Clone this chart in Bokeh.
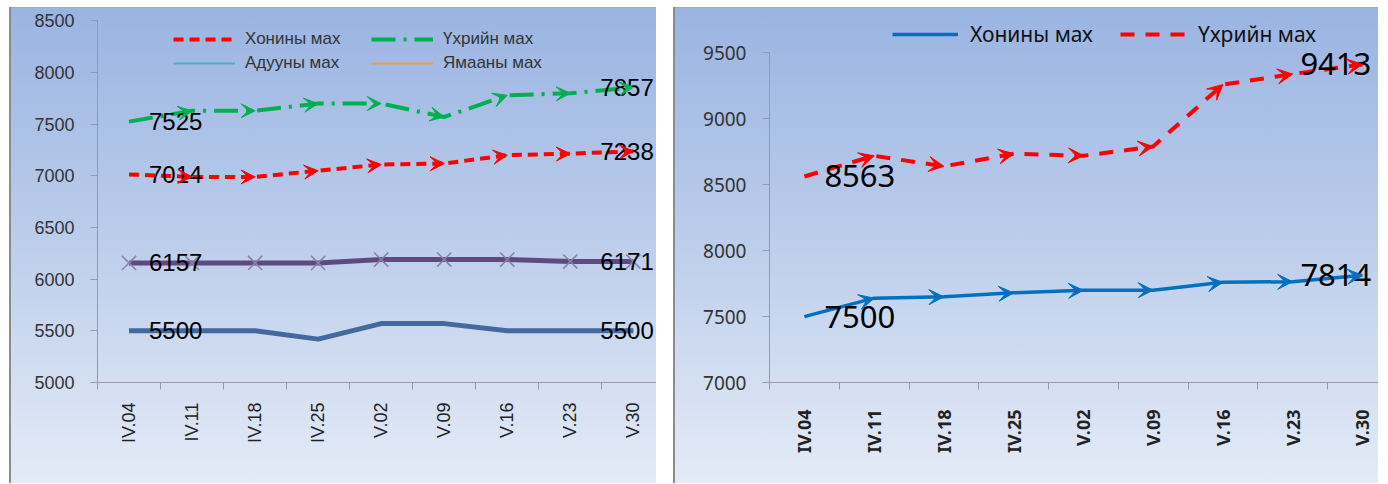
import numpy as np
from bokeh.plotting import figure
from bokeh.models import (Range1d, FixedTicker, ColumnDataSource, Legend, LegendItem,
                          Arrow, VeeHead, Row)
from bokeh.core.properties import value
from bokeh.embed import file_html
from bokeh.resources import INLINE

# ---------------- data ----------------
dates = ["IV.04", "IV.11", "IV.18", "IV.25", "V.02", "V.09", "V.16", "V.23", "V.30"]

# left chart
left_names = ["Хонины мах", "Үхрийн мах", "Адууны мах", "Ямааны мах"]
l_mutton = [7014, 6990, 6990, 7050, 7110, 7120, 7200, 7215, 7238]
l_beef = [7525, 7630, 7630, 7700, 7700, 7570, 7780, 7800, 7857]
l_horse = [6157, 6157, 6157, 6157, 6190, 6190, 6190, 6171, 6171]
l_goat = [5500, 5500, 5500, 5420, 5570, 5570, 5500, 5500, 5500]
left_yticks = [5000, 5500, 6000, 6500, 7000, 7500, 8000, 8500]

# right chart
right_names = ["Хонины мах", "Үхрийн мах"]
r_mutton = [7500, 7640, 7650, 7680, 7700, 7700, 7760, 7765, 7814]
r_beef = [8563, 8720, 8640, 8735, 8720, 8790, 9260, 9340, 9413]
right_yticks = [7000, 7500, 8000, 8500, 9000, 9500]

xs = list(range(len(dates)))
GRAD = "linear-gradient(to bottom, #9ab4e2 0%, #b9cbea 45%, #e4ebf7 100%)"


def make_fig(w, h, yr, ybounds, xend, bl, bb, yticks, yfont, yfs, xfont, xfs, xbold,
             standoff_x, standoff_y):
    p = figure(width=w, height=h, x_range=Range1d(-0.5, xend), y_range=Range1d(*yr),
               output_backend="svg", toolbar_location=None, title_location=None,
               min_border_left=bl, min_border_top=0, min_border_bottom=bb, min_border_right=0)
    p.background_fill_alpha = 0
    p.border_fill_alpha = 0
    p.outline_line_color = None
    p.grid.visible = False
    p.styles = {"background": GRAD,
                "box-shadow": "inset 2px 0 0 #8c8c8c, inset 0 1px 0 #a8a8a8"}
    ax = p.xaxis[0]
    ax.ticker = FixedTicker(ticks=xs, minor_ticks=[i - 0.5 for i in range(len(dates) + 1)])
    ax.major_label_overrides = {i: d for i, d in enumerate(dates)}
    ax.major_tick_out = 0
    ax.major_tick_in = 0
    ax.minor_tick_out = 7
    ax.minor_tick_in = 0
    ax.minor_tick_line_color = "#9a9a9a"
    ax.axis_line_color = "#9a9a9a"
    ax.major_label_orientation = np.pi / 2
    ax.major_label_text_font = xfont
    ax.major_label_text_font_size = f"{xfs}px"
    ax.major_label_text_color = "#222222"
    ax.major_label_text_font_style = "bold" if xbold else "normal"
    ax.major_label_standoff = standoff_x
    ay = p.yaxis[0]
    ay.ticker = FixedTicker(ticks=yticks, minor_ticks=[])
    ay.bounds = ybounds
    ay.major_tick_out = 7
    ay.major_tick_in = 0
    ay.major_tick_line_color = "#9a9a9a"
    ay.axis_line_color = "#9a9a9a"
    ay.major_label_text_font = yfont
    ay.major_label_text_font_size = f"{yfs}px"
    ay.major_label_text_color = "#333333"
    ay.major_label_standoff = standoff_y
    return p


def add_arrows(p, ys, color, size):
    src = ColumnDataSource(dict(x0=xs[:-1], y0=ys[:-1], x1=xs[1:], y1=ys[1:]))
    p.add_layout(Arrow(end=VeeHead(size=size, fill_color=color, line_color=color, line_width=1),
                       x_start="x0", y_start="y0", x_end="x1", y_end="y1", source=src,
                       line_alpha=0, line_width=0))


def add_labels(p, ys, offs, font, size):
    src = ColumnDataSource(dict(x=[xs[0], xs[-1]], y=[ys[0], ys[-1]],
                                t=[str(ys[0]), str(ys[-1])], dx=offs))
    p.text(x="x", y="y", text="t", x_offset="dx", source=src, text_font=value(font),
           text_font_size=f"{size}px", text_align="left", text_baseline="middle",
           text_color="black")


# ---------------- left chart ----------------
p1 = make_fig(647, 476, (5000, 8630), (5000, 8500), (655 - 96) / 63.04 - 0.5, 88, 101,
              left_yticks, "Liberation Sans", 18, "Liberation Sans", 18, False, 13, 16)

# thin legend-coloured lines, fully hidden under the thick plotted lines
leg_h = p1.line(xs, l_horse, line_color="#4bacc6", line_width=2)
leg_g = p1.line(xs, l_goat, line_color="#f79646", line_width=2)
r_goat = p1.line(xs, l_goat, line_color="#44699e", line_width=5)
r_horse = p1.line(xs, l_horse, line_color="#5f4a80", line_width=5)
p1.scatter(xs, l_horse, marker="x", size=20, line_color="#8a80a8", line_width=1.5)
r_lm = p1.line(xs, l_mutton, line_color="#ff0000", line_width=4, line_dash="10 6")
add_arrows(p1, l_mutton, "#ff0000", 14)
r_lb = p1.line(xs, l_beef, line_color="#00b050", line_width=4, line_dash="24 8 3 8")
add_arrows(p1, l_beef, "#00b050", 14)

for ys in (l_beef, l_mutton, l_horse, l_goat):
    add_labels(p1, ys, [20, -33], "Liberation Sans", 24)

leg1 = Legend(items=[LegendItem(label=left_names[0], renderers=[r_lm]),
                     LegendItem(label=left_names[1], renderers=[r_lb]),
                     LegendItem(label=left_names[2], renderers=[leg_h]),
                     LegendItem(label=left_names[3], renderers=[leg_g])],
              location=(76, 309), orientation="horizontal", ncols=2,
              glyph_width=62, glyph_height=20, label_height=20, label_width=122,
              label_standoff=10, spacing=4, padding=0, margin=0,
              background_fill_alpha=0, border_line_alpha=0,
              label_text_font="Liberation Sans", label_text_font_size="17px",
              label_text_color="#333333")
p1.add_layout(leg1)

# ---------------- right chart ----------------
p2 = make_fig(705, 476, (7000, 9845), (7000, 9500), (1377 - 768) / 69.75 - 0.5, 96, 96,
              right_yticks, "Noto Sans", 19, "Noto Sans", 18, True, 20, 16)

r_rm = p2.line(xs, r_mutton, line_color="#0070c0", line_width=3.5)
add_arrows(p2, r_mutton, "#0070c0", 15)
r_rb = p2.line(xs, r_beef, line_color="#ff0000", line_width=4, line_dash="14 11")
add_arrows(p2, r_beef, "#ff0000", 15)

add_labels(p2, r_beef, [20, -62], "Noto Sans", 31)
add_labels(p2, r_mutton, [20, -62], "Noto Sans", 31)

leg2 = Legend(items=[LegendItem(label=right_names[0], renderers=[r_rm]),
                     LegendItem(label=right_names[1], renderers=[r_rb])],
              location=(123, 334), orientation="horizontal",
              glyph_width=66, glyph_height=24, label_height=24, label_width=136,
              label_standoff=12, spacing=14, padding=0, margin=0,
              background_fill_alpha=0, border_line_alpha=0,
              label_text_font="Noto Sans", label_text_font_size="21px",
              label_text_color="#111111")
p2.add_layout(leg2)

layout = Row(children=[p1, p2], spacing=17, margin=(7, 0, 0, 9))
open("out.html", "w").write(file_html(layout, INLINE))
